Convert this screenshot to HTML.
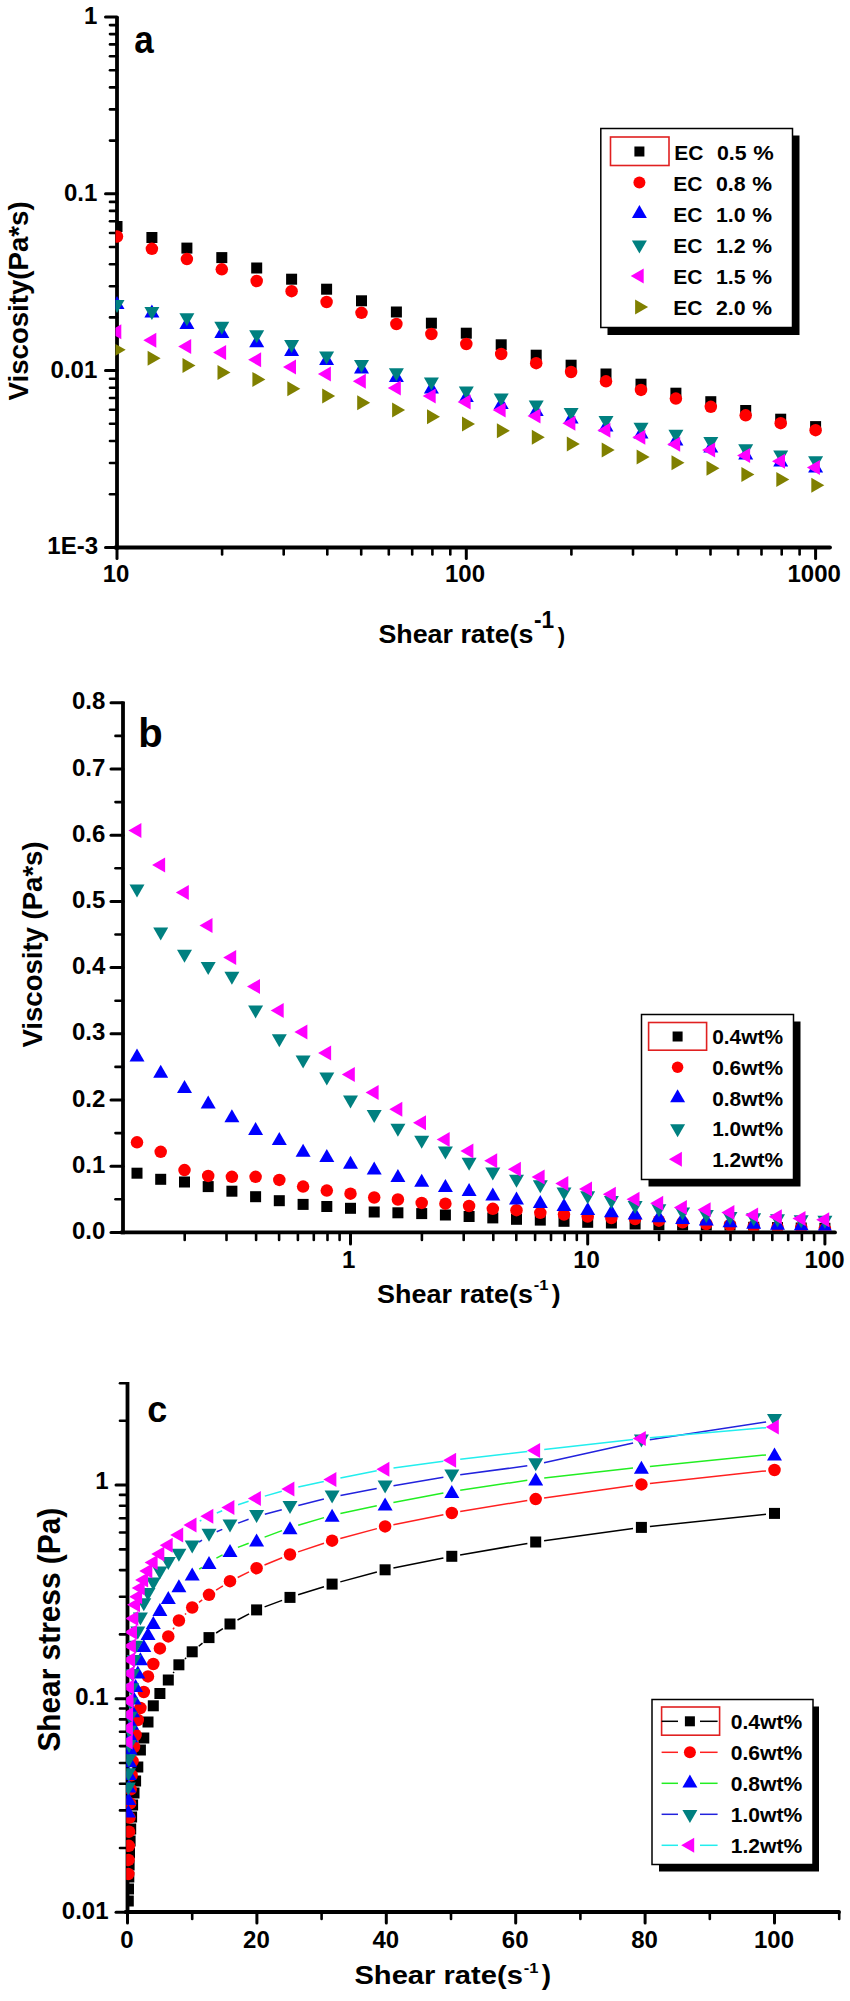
<!DOCTYPE html><html><head><meta charset="utf-8"><style>html,body{margin:0;padding:0;background:#fff;}svg{display:block;}text{font-family:"Liberation Sans",sans-serif;font-weight:bold;fill:#000;}</style></head><body>
<svg width="850" height="2001" viewBox="0 0 850 2001">
<rect width="850" height="2001" fill="#fff"/>
<defs><clipPath id="ca"><rect x="115.5" y="0" width="733" height="545.8"/></clipPath><clipPath id="cb"><rect x="121.5" y="690" width="727" height="540.5"/></clipPath><clipPath id="cc"><rect x="126.2" y="1370" width="722" height="540"/></clipPath></defs>
<line x1="117.0" y1="16.5" x2="117.0" y2="549.4" stroke="#000" stroke-width="3.8" stroke-linecap="butt"/>
<line x1="115.1" y1="547.5" x2="830.0" y2="547.5" stroke="#000" stroke-width="3.8" stroke-linecap="round"/>
<line x1="117.0" y1="17.0" x2="105.5" y2="17.0" stroke="#000" stroke-width="3" stroke-linecap="round"/>
<line x1="117.0" y1="140.6" x2="110.0" y2="140.6" stroke="#000" stroke-width="2.6" stroke-linecap="round"/>
<line x1="117.0" y1="109.4" x2="110.0" y2="109.4" stroke="#000" stroke-width="2.6" stroke-linecap="round"/>
<line x1="117.0" y1="87.4" x2="110.0" y2="87.4" stroke="#000" stroke-width="2.6" stroke-linecap="round"/>
<line x1="117.0" y1="70.2" x2="110.0" y2="70.2" stroke="#000" stroke-width="2.6" stroke-linecap="round"/>
<line x1="117.0" y1="56.2" x2="110.0" y2="56.2" stroke="#000" stroke-width="2.6" stroke-linecap="round"/>
<line x1="117.0" y1="44.4" x2="110.0" y2="44.4" stroke="#000" stroke-width="2.6" stroke-linecap="round"/>
<line x1="117.0" y1="34.1" x2="110.0" y2="34.1" stroke="#000" stroke-width="2.6" stroke-linecap="round"/>
<line x1="117.0" y1="25.1" x2="110.0" y2="25.1" stroke="#000" stroke-width="2.6" stroke-linecap="round"/>
<line x1="117.0" y1="193.8" x2="105.5" y2="193.8" stroke="#000" stroke-width="3" stroke-linecap="round"/>
<line x1="117.0" y1="317.4" x2="110.0" y2="317.4" stroke="#000" stroke-width="2.6" stroke-linecap="round"/>
<line x1="117.0" y1="286.2" x2="110.0" y2="286.2" stroke="#000" stroke-width="2.6" stroke-linecap="round"/>
<line x1="117.0" y1="264.2" x2="110.0" y2="264.2" stroke="#000" stroke-width="2.6" stroke-linecap="round"/>
<line x1="117.0" y1="247.0" x2="110.0" y2="247.0" stroke="#000" stroke-width="2.6" stroke-linecap="round"/>
<line x1="117.0" y1="233.0" x2="110.0" y2="233.0" stroke="#000" stroke-width="2.6" stroke-linecap="round"/>
<line x1="117.0" y1="221.2" x2="110.0" y2="221.2" stroke="#000" stroke-width="2.6" stroke-linecap="round"/>
<line x1="117.0" y1="210.9" x2="110.0" y2="210.9" stroke="#000" stroke-width="2.6" stroke-linecap="round"/>
<line x1="117.0" y1="201.9" x2="110.0" y2="201.9" stroke="#000" stroke-width="2.6" stroke-linecap="round"/>
<line x1="117.0" y1="370.6" x2="105.5" y2="370.6" stroke="#000" stroke-width="3" stroke-linecap="round"/>
<line x1="117.0" y1="494.2" x2="110.0" y2="494.2" stroke="#000" stroke-width="2.6" stroke-linecap="round"/>
<line x1="117.0" y1="463.0" x2="110.0" y2="463.0" stroke="#000" stroke-width="2.6" stroke-linecap="round"/>
<line x1="117.0" y1="441.0" x2="110.0" y2="441.0" stroke="#000" stroke-width="2.6" stroke-linecap="round"/>
<line x1="117.0" y1="423.8" x2="110.0" y2="423.8" stroke="#000" stroke-width="2.6" stroke-linecap="round"/>
<line x1="117.0" y1="409.8" x2="110.0" y2="409.8" stroke="#000" stroke-width="2.6" stroke-linecap="round"/>
<line x1="117.0" y1="398.0" x2="110.0" y2="398.0" stroke="#000" stroke-width="2.6" stroke-linecap="round"/>
<line x1="117.0" y1="387.7" x2="110.0" y2="387.7" stroke="#000" stroke-width="2.6" stroke-linecap="round"/>
<line x1="117.0" y1="378.7" x2="110.0" y2="378.7" stroke="#000" stroke-width="2.6" stroke-linecap="round"/>
<line x1="117.0" y1="547.4" x2="105.5" y2="547.4" stroke="#000" stroke-width="3" stroke-linecap="round"/>
<line x1="117.0" y1="547.5" x2="117.0" y2="558.5" stroke="#000" stroke-width="3" stroke-linecap="round"/>
<line x1="222.1" y1="547.5" x2="222.1" y2="554.5" stroke="#000" stroke-width="2.6" stroke-linecap="round"/>
<line x1="283.7" y1="547.5" x2="283.7" y2="554.5" stroke="#000" stroke-width="2.6" stroke-linecap="round"/>
<line x1="327.3" y1="547.5" x2="327.3" y2="554.5" stroke="#000" stroke-width="2.6" stroke-linecap="round"/>
<line x1="361.2" y1="547.5" x2="361.2" y2="554.5" stroke="#000" stroke-width="2.6" stroke-linecap="round"/>
<line x1="388.8" y1="547.5" x2="388.8" y2="554.5" stroke="#000" stroke-width="2.6" stroke-linecap="round"/>
<line x1="412.2" y1="547.5" x2="412.2" y2="554.5" stroke="#000" stroke-width="2.6" stroke-linecap="round"/>
<line x1="432.4" y1="547.5" x2="432.4" y2="554.5" stroke="#000" stroke-width="2.6" stroke-linecap="round"/>
<line x1="450.3" y1="547.5" x2="450.3" y2="554.5" stroke="#000" stroke-width="2.6" stroke-linecap="round"/>
<line x1="466.3" y1="547.5" x2="466.3" y2="558.5" stroke="#000" stroke-width="3" stroke-linecap="round"/>
<line x1="571.4" y1="547.5" x2="571.4" y2="554.5" stroke="#000" stroke-width="2.6" stroke-linecap="round"/>
<line x1="633.0" y1="547.5" x2="633.0" y2="554.5" stroke="#000" stroke-width="2.6" stroke-linecap="round"/>
<line x1="676.6" y1="547.5" x2="676.6" y2="554.5" stroke="#000" stroke-width="2.6" stroke-linecap="round"/>
<line x1="710.5" y1="547.5" x2="710.5" y2="554.5" stroke="#000" stroke-width="2.6" stroke-linecap="round"/>
<line x1="738.1" y1="547.5" x2="738.1" y2="554.5" stroke="#000" stroke-width="2.6" stroke-linecap="round"/>
<line x1="761.5" y1="547.5" x2="761.5" y2="554.5" stroke="#000" stroke-width="2.6" stroke-linecap="round"/>
<line x1="781.7" y1="547.5" x2="781.7" y2="554.5" stroke="#000" stroke-width="2.6" stroke-linecap="round"/>
<line x1="799.6" y1="547.5" x2="799.6" y2="554.5" stroke="#000" stroke-width="2.6" stroke-linecap="round"/>
<line x1="815.6" y1="547.5" x2="815.6" y2="558.5" stroke="#000" stroke-width="3" stroke-linecap="round"/>
<g clip-path="url(#ca)">
<rect x="111.5" y="221.0" width="11" height="11" fill="#000000"/>
<rect x="146.4" y="232.0" width="11" height="11" fill="#000000"/>
<rect x="181.4" y="242.6" width="11" height="11" fill="#000000"/>
<rect x="216.3" y="252.1" width="11" height="11" fill="#000000"/>
<rect x="251.2" y="262.5" width="11" height="11" fill="#000000"/>
<rect x="286.1" y="273.7" width="11" height="11" fill="#000000"/>
<rect x="321.1" y="283.7" width="11" height="11" fill="#000000"/>
<rect x="356.0" y="295.3" width="11" height="11" fill="#000000"/>
<rect x="390.9" y="306.5" width="11" height="11" fill="#000000"/>
<rect x="425.9" y="317.7" width="11" height="11" fill="#000000"/>
<rect x="460.8" y="327.7" width="11" height="11" fill="#000000"/>
<rect x="495.7" y="339.3" width="11" height="11" fill="#000000"/>
<rect x="530.7" y="349.7" width="11" height="11" fill="#000000"/>
<rect x="565.6" y="359.7" width="11" height="11" fill="#000000"/>
<rect x="600.5" y="368.5" width="11" height="11" fill="#000000"/>
<rect x="635.5" y="378.7" width="11" height="11" fill="#000000"/>
<rect x="670.4" y="387.7" width="11" height="11" fill="#000000"/>
<rect x="705.3" y="396.2" width="11" height="11" fill="#000000"/>
<rect x="740.2" y="405.0" width="11" height="11" fill="#000000"/>
<rect x="775.2" y="413.7" width="11" height="11" fill="#000000"/>
<rect x="810.1" y="421.1" width="11" height="11" fill="#000000"/>
<circle cx="117.0" cy="236.5" r="6.25" fill="#ff0000"/>
<circle cx="151.9" cy="248.8" r="6.25" fill="#ff0000"/>
<circle cx="186.9" cy="259.1" r="6.25" fill="#ff0000"/>
<circle cx="221.8" cy="269.3" r="6.25" fill="#ff0000"/>
<circle cx="256.7" cy="281.0" r="6.25" fill="#ff0000"/>
<circle cx="291.6" cy="291.2" r="6.25" fill="#ff0000"/>
<circle cx="326.6" cy="302.0" r="6.25" fill="#ff0000"/>
<circle cx="361.5" cy="312.8" r="6.25" fill="#ff0000"/>
<circle cx="396.4" cy="324.0" r="6.25" fill="#ff0000"/>
<circle cx="431.4" cy="334.0" r="6.25" fill="#ff0000"/>
<circle cx="466.3" cy="344.0" r="6.25" fill="#ff0000"/>
<circle cx="501.2" cy="354.0" r="6.25" fill="#ff0000"/>
<circle cx="536.2" cy="363.2" r="6.25" fill="#ff0000"/>
<circle cx="571.1" cy="372.0" r="6.25" fill="#ff0000"/>
<circle cx="606.0" cy="381.3" r="6.25" fill="#ff0000"/>
<circle cx="641.0" cy="389.9" r="6.25" fill="#ff0000"/>
<circle cx="675.9" cy="398.6" r="6.25" fill="#ff0000"/>
<circle cx="710.8" cy="406.8" r="6.25" fill="#ff0000"/>
<circle cx="745.7" cy="415.3" r="6.25" fill="#ff0000"/>
<circle cx="780.7" cy="423.2" r="6.25" fill="#ff0000"/>
<circle cx="815.6" cy="430.2" r="6.25" fill="#ff0000"/>
<polygon points="109.5,309.0 124.5,309.0 117.0,296.0" fill="#0000ff"/>
<polygon points="144.4,317.5 159.4,317.5 151.9,304.5" fill="#0000ff"/>
<polygon points="179.4,329.1 194.4,329.1 186.9,316.1" fill="#0000ff"/>
<polygon points="214.3,338.1 229.3,338.1 221.8,325.1" fill="#0000ff"/>
<polygon points="249.2,347.2 264.2,347.2 256.7,334.2" fill="#0000ff"/>
<polygon points="284.1,356.0 299.1,356.0 291.6,343.0" fill="#0000ff"/>
<polygon points="319.1,365.0 334.1,365.0 326.6,352.0" fill="#0000ff"/>
<polygon points="354.0,373.5 369.0,373.5 361.5,360.5" fill="#0000ff"/>
<polygon points="388.9,382.0 403.9,382.0 396.4,369.0" fill="#0000ff"/>
<polygon points="423.9,393.5 438.9,393.5 431.4,380.5" fill="#0000ff"/>
<polygon points="458.8,402.0 473.8,402.0 466.3,389.0" fill="#0000ff"/>
<polygon points="493.7,409.0 508.7,409.0 501.2,396.0" fill="#0000ff"/>
<polygon points="528.7,416.0 543.7,416.0 536.2,403.0" fill="#0000ff"/>
<polygon points="563.6,423.5 578.6,423.5 571.1,410.5" fill="#0000ff"/>
<polygon points="598.5,431.5 613.5,431.5 606.0,418.5" fill="#0000ff"/>
<polygon points="633.5,438.5 648.5,438.5 641.0,425.5" fill="#0000ff"/>
<polygon points="668.4,445.5 683.4,445.5 675.9,432.5" fill="#0000ff"/>
<polygon points="703.3,452.5 718.3,452.5 710.8,439.5" fill="#0000ff"/>
<polygon points="738.2,459.5 753.2,459.5 745.7,446.5" fill="#0000ff"/>
<polygon points="773.2,466.5 788.2,466.5 780.7,453.5" fill="#0000ff"/>
<polygon points="808.1,472.5 823.1,472.5 815.6,459.5" fill="#0000ff"/>
<polygon points="109.5,299.9 124.5,299.9 117.0,312.9" fill="#008080"/>
<polygon points="144.4,307.0 159.4,307.0 151.9,320.0" fill="#008080"/>
<polygon points="179.4,313.3 194.4,313.3 186.9,326.3" fill="#008080"/>
<polygon points="214.3,321.7 229.3,321.7 221.8,334.7" fill="#008080"/>
<polygon points="249.2,330.2 264.2,330.2 256.7,343.2" fill="#008080"/>
<polygon points="284.1,340.0 299.1,340.0 291.6,353.0" fill="#008080"/>
<polygon points="319.1,351.5 334.1,351.5 326.6,364.5" fill="#008080"/>
<polygon points="354.0,360.0 369.0,360.0 361.5,373.0" fill="#008080"/>
<polygon points="388.9,368.2 403.9,368.2 396.4,381.2" fill="#008080"/>
<polygon points="423.9,377.5 438.9,377.5 431.4,390.5" fill="#008080"/>
<polygon points="458.8,386.5 473.8,386.5 466.3,399.5" fill="#008080"/>
<polygon points="493.7,393.5 508.7,393.5 501.2,406.5" fill="#008080"/>
<polygon points="528.7,400.6 543.7,400.6 536.2,413.6" fill="#008080"/>
<polygon points="563.6,408.1 578.6,408.1 571.1,421.1" fill="#008080"/>
<polygon points="598.5,415.9 613.5,415.9 606.0,428.9" fill="#008080"/>
<polygon points="633.5,422.7 648.5,422.7 641.0,435.7" fill="#008080"/>
<polygon points="668.4,429.7 683.4,429.7 675.9,442.7" fill="#008080"/>
<polygon points="703.3,436.9 718.3,436.9 710.8,449.9" fill="#008080"/>
<polygon points="738.2,444.2 753.2,444.2 745.7,457.2" fill="#008080"/>
<polygon points="773.2,450.4 788.2,450.4 780.7,463.4" fill="#008080"/>
<polygon points="808.1,456.3 823.1,456.3 815.6,469.3" fill="#008080"/>
<polygon points="121.3,324.3 121.3,339.3 108.3,331.8" fill="#ff00ff"/>
<polygon points="156.3,332.7 156.3,347.7 143.3,340.2" fill="#ff00ff"/>
<polygon points="191.2,339.1 191.2,354.1 178.2,346.6" fill="#ff00ff"/>
<polygon points="226.1,345.0 226.1,360.0 213.1,352.5" fill="#ff00ff"/>
<polygon points="261.1,352.3 261.1,367.3 248.1,359.8" fill="#ff00ff"/>
<polygon points="296.0,359.5 296.0,374.5 283.0,367.0" fill="#ff00ff"/>
<polygon points="330.9,366.5 330.9,381.5 317.9,374.0" fill="#ff00ff"/>
<polygon points="365.8,373.7 365.8,388.7 352.8,381.2" fill="#ff00ff"/>
<polygon points="400.8,380.5 400.8,395.5 387.8,388.0" fill="#ff00ff"/>
<polygon points="435.7,388.5 435.7,403.5 422.7,396.0" fill="#ff00ff"/>
<polygon points="470.6,394.5 470.6,409.5 457.6,402.0" fill="#ff00ff"/>
<polygon points="505.6,402.5 505.6,417.5 492.6,410.0" fill="#ff00ff"/>
<polygon points="540.5,408.5 540.5,423.5 527.5,416.0" fill="#ff00ff"/>
<polygon points="575.4,415.7 575.4,430.7 562.4,423.2" fill="#ff00ff"/>
<polygon points="610.4,422.7 610.4,437.7 597.4,430.2" fill="#ff00ff"/>
<polygon points="645.3,429.8 645.3,444.8 632.3,437.3" fill="#ff00ff"/>
<polygon points="680.2,436.8 680.2,451.8 667.2,444.3" fill="#ff00ff"/>
<polygon points="715.1,442.5 715.1,457.5 702.1,450.0" fill="#ff00ff"/>
<polygon points="750.1,448.1 750.1,463.1 737.1,455.6" fill="#ff00ff"/>
<polygon points="785.0,453.8 785.0,468.8 772.0,461.3" fill="#ff00ff"/>
<polygon points="819.9,460.0 819.9,475.0 806.9,467.5" fill="#ff00ff"/>
<polygon points="112.7,342.3 112.7,357.3 125.7,349.8" fill="#808000"/>
<polygon points="147.6,350.7 147.6,365.7 160.6,358.2" fill="#808000"/>
<polygon points="182.5,358.0 182.5,373.0 195.5,365.5" fill="#808000"/>
<polygon points="217.5,365.1 217.5,380.1 230.5,372.6" fill="#808000"/>
<polygon points="252.4,371.9 252.4,386.9 265.4,379.4" fill="#808000"/>
<polygon points="287.3,381.3 287.3,396.3 300.3,388.8" fill="#808000"/>
<polygon points="322.2,388.5 322.2,403.5 335.2,396.0" fill="#808000"/>
<polygon points="357.2,395.3 357.2,410.3 370.2,402.8" fill="#808000"/>
<polygon points="392.1,402.5 392.1,417.5 405.1,410.0" fill="#808000"/>
<polygon points="427.0,409.3 427.0,424.3 440.0,416.8" fill="#808000"/>
<polygon points="462.0,416.5 462.0,431.5 475.0,424.0" fill="#808000"/>
<polygon points="496.9,423.3 496.9,438.3 509.9,430.8" fill="#808000"/>
<polygon points="531.8,429.7 531.8,444.7 544.8,437.2" fill="#808000"/>
<polygon points="566.8,436.5 566.8,451.5 579.8,444.0" fill="#808000"/>
<polygon points="601.7,442.5 601.7,457.5 614.7,450.0" fill="#808000"/>
<polygon points="636.6,449.5 636.6,464.5 649.6,457.0" fill="#808000"/>
<polygon points="671.5,455.2 671.5,470.2 684.5,462.7" fill="#808000"/>
<polygon points="706.5,460.8 706.5,475.8 719.5,468.3" fill="#808000"/>
<polygon points="741.4,467.0 741.4,482.0 754.4,474.5" fill="#808000"/>
<polygon points="776.3,472.1 776.3,487.1 789.3,479.6" fill="#808000"/>
<polygon points="811.3,477.8 811.3,492.8 824.3,485.3" fill="#808000"/>
</g>
<text x="97.3" y="23.5" font-size="24" text-anchor="end" >1</text>
<text x="97.3" y="201" font-size="24" text-anchor="end" >0.1</text>
<text x="97.3" y="377.7" font-size="24" text-anchor="end" >0.01</text>
<text x="98" y="553.6" font-size="24" text-anchor="end" >1E-3</text>
<text x="116" y="582" font-size="24" text-anchor="middle" >10</text>
<text x="465" y="582" font-size="24" text-anchor="middle" >100</text>
<text x="814.2" y="582" font-size="24" text-anchor="middle" >1000</text>
<text x="134.2" y="52.9" font-size="38" text-anchor="start"  textLength="19.5" lengthAdjust="spacingAndGlyphs">a</text>
<text x="378.4" y="642.6" font-size="26" text-anchor="start"  textLength="155.1" lengthAdjust="spacingAndGlyphs">Shear rate(s</text>
<text x="534" y="628" font-size="24" text-anchor="start"  textLength="20.2" lengthAdjust="spacingAndGlyphs">-1</text>
<text x="557.7" y="642.6" font-size="22" text-anchor="start" >)</text>
<text transform="translate(28.2,400.4) rotate(-90)" font-size="28" textLength="199" lengthAdjust="spacingAndGlyphs">Viscosity(Pa*s)</text>
<rect x="607.5" y="135.5" width="192" height="199.5" fill="#000"/>
<rect x="600.8" y="128.5" width="191.7" height="199" fill="#fff" stroke="#000" stroke-width="1.5"/>
<rect x="610.5" y="137" width="58.5" height="28.5" fill="none" stroke="#e02020" stroke-width="1.6"/>
<rect x="634.4" y="146.5" width="10" height="10" fill="#000000"/>
<text x="674.2" y="159.5" font-size="20.5" text-anchor="start"  textLength="29.2" lengthAdjust="spacingAndGlyphs">EC</text>
<text x="717" y="159.5" font-size="20.5" text-anchor="start"  textLength="29.6" lengthAdjust="spacingAndGlyphs">0.5</text>
<text x="753.3" y="159.5" font-size="20.5" text-anchor="start"  textLength="20.5" lengthAdjust="spacingAndGlyphs">%</text>
<circle cx="639.4" cy="182.6" r="6.0" fill="#ff0000"/>
<text x="673.2" y="190.6" font-size="20.5" text-anchor="start"  textLength="29.2" lengthAdjust="spacingAndGlyphs">EC</text>
<text x="716" y="190.6" font-size="20.5" text-anchor="start"  textLength="29.6" lengthAdjust="spacingAndGlyphs">0.8</text>
<text x="752.3" y="190.6" font-size="20.5" text-anchor="start"  textLength="19.8" lengthAdjust="spacingAndGlyphs">%</text>
<polygon points="631.9,218.0 646.9,218.0 639.4,205.0" fill="#0000ff"/>
<text x="673.2" y="221.7" font-size="20.5" text-anchor="start"  textLength="29.2" lengthAdjust="spacingAndGlyphs">EC</text>
<text x="716" y="221.7" font-size="20.5" text-anchor="start"  textLength="29.6" lengthAdjust="spacingAndGlyphs">1.0</text>
<text x="752.3" y="221.7" font-size="20.5" text-anchor="start"  textLength="19.8" lengthAdjust="spacingAndGlyphs">%</text>
<polygon points="631.9,240.5 646.9,240.5 639.4,253.5" fill="#008080"/>
<text x="673.2" y="252.8" font-size="20.5" text-anchor="start"  textLength="29.2" lengthAdjust="spacingAndGlyphs">EC</text>
<text x="716" y="252.8" font-size="20.5" text-anchor="start"  textLength="29.6" lengthAdjust="spacingAndGlyphs">1.2</text>
<text x="752.3" y="252.8" font-size="20.5" text-anchor="start"  textLength="19.8" lengthAdjust="spacingAndGlyphs">%</text>
<polygon points="643.7,268.4 643.7,283.4 630.7,275.9" fill="#ff00ff"/>
<text x="673.2" y="283.9" font-size="20.5" text-anchor="start"  textLength="29.2" lengthAdjust="spacingAndGlyphs">EC</text>
<text x="716" y="283.9" font-size="20.5" text-anchor="start"  textLength="29.6" lengthAdjust="spacingAndGlyphs">1.5</text>
<text x="752.3" y="283.9" font-size="20.5" text-anchor="start"  textLength="19.8" lengthAdjust="spacingAndGlyphs">%</text>
<polygon points="635.1,299.5 635.1,314.5 648.1,307.0" fill="#808000"/>
<text x="673.2" y="315.0" font-size="20.5" text-anchor="start"  textLength="29.2" lengthAdjust="spacingAndGlyphs">EC</text>
<text x="716" y="315.0" font-size="20.5" text-anchor="start"  textLength="29.6" lengthAdjust="spacingAndGlyphs">2.0</text>
<text x="752.3" y="315.0" font-size="20.5" text-anchor="start"  textLength="19.8" lengthAdjust="spacingAndGlyphs">%</text>
<line x1="123.0" y1="701.5" x2="123.0" y2="1234.3" stroke="#000" stroke-width="3.8" stroke-linecap="butt"/>
<line x1="121.1" y1="1232.4" x2="835.0" y2="1232.4" stroke="#000" stroke-width="3.8" stroke-linecap="round"/>
<line x1="123.0" y1="1232.4" x2="111.0" y2="1232.4" stroke="#000" stroke-width="3" stroke-linecap="round"/>
<line x1="123.0" y1="1199.3" x2="115.5" y2="1199.3" stroke="#000" stroke-width="2.6" stroke-linecap="round"/>
<line x1="123.0" y1="1166.2" x2="111.0" y2="1166.2" stroke="#000" stroke-width="3" stroke-linecap="round"/>
<line x1="123.0" y1="1133.1" x2="115.5" y2="1133.1" stroke="#000" stroke-width="2.6" stroke-linecap="round"/>
<line x1="123.0" y1="1100.0" x2="111.0" y2="1100.0" stroke="#000" stroke-width="3" stroke-linecap="round"/>
<line x1="123.0" y1="1066.9" x2="115.5" y2="1066.9" stroke="#000" stroke-width="2.6" stroke-linecap="round"/>
<line x1="123.0" y1="1033.8" x2="111.0" y2="1033.8" stroke="#000" stroke-width="3" stroke-linecap="round"/>
<line x1="123.0" y1="1000.7" x2="115.5" y2="1000.7" stroke="#000" stroke-width="2.6" stroke-linecap="round"/>
<line x1="123.0" y1="967.6" x2="111.0" y2="967.6" stroke="#000" stroke-width="3" stroke-linecap="round"/>
<line x1="123.0" y1="934.5" x2="115.5" y2="934.5" stroke="#000" stroke-width="2.6" stroke-linecap="round"/>
<line x1="123.0" y1="901.4" x2="111.0" y2="901.4" stroke="#000" stroke-width="3" stroke-linecap="round"/>
<line x1="123.0" y1="868.3" x2="115.5" y2="868.3" stroke="#000" stroke-width="2.6" stroke-linecap="round"/>
<line x1="123.0" y1="835.2" x2="111.0" y2="835.2" stroke="#000" stroke-width="3" stroke-linecap="round"/>
<line x1="123.0" y1="802.1" x2="115.5" y2="802.1" stroke="#000" stroke-width="2.6" stroke-linecap="round"/>
<line x1="123.0" y1="769.0" x2="111.0" y2="769.0" stroke="#000" stroke-width="3" stroke-linecap="round"/>
<line x1="123.0" y1="735.9" x2="115.5" y2="735.9" stroke="#000" stroke-width="2.6" stroke-linecap="round"/>
<line x1="123.0" y1="702.8" x2="111.0" y2="702.8" stroke="#000" stroke-width="3" stroke-linecap="round"/>
<line x1="350.5" y1="1232.4" x2="350.5" y2="1244.0" stroke="#000" stroke-width="3" stroke-linecap="round"/>
<line x1="587.7" y1="1232.4" x2="587.7" y2="1244.0" stroke="#000" stroke-width="3" stroke-linecap="round"/>
<line x1="824.9" y1="1232.4" x2="824.9" y2="1244.0" stroke="#000" stroke-width="3" stroke-linecap="round"/>
<line x1="184.7" y1="1232.4" x2="184.7" y2="1240.0" stroke="#000" stroke-width="2.6" stroke-linecap="round"/>
<line x1="226.5" y1="1232.4" x2="226.5" y2="1240.0" stroke="#000" stroke-width="2.6" stroke-linecap="round"/>
<line x1="256.1" y1="1232.4" x2="256.1" y2="1240.0" stroke="#000" stroke-width="2.6" stroke-linecap="round"/>
<line x1="279.1" y1="1232.4" x2="279.1" y2="1240.0" stroke="#000" stroke-width="2.6" stroke-linecap="round"/>
<line x1="297.9" y1="1232.4" x2="297.9" y2="1240.0" stroke="#000" stroke-width="2.6" stroke-linecap="round"/>
<line x1="313.8" y1="1232.4" x2="313.8" y2="1240.0" stroke="#000" stroke-width="2.6" stroke-linecap="round"/>
<line x1="327.5" y1="1232.4" x2="327.5" y2="1240.0" stroke="#000" stroke-width="2.6" stroke-linecap="round"/>
<line x1="339.6" y1="1232.4" x2="339.6" y2="1240.0" stroke="#000" stroke-width="2.6" stroke-linecap="round"/>
<line x1="421.9" y1="1232.4" x2="421.9" y2="1240.0" stroke="#000" stroke-width="2.6" stroke-linecap="round"/>
<line x1="463.7" y1="1232.4" x2="463.7" y2="1240.0" stroke="#000" stroke-width="2.6" stroke-linecap="round"/>
<line x1="493.3" y1="1232.4" x2="493.3" y2="1240.0" stroke="#000" stroke-width="2.6" stroke-linecap="round"/>
<line x1="516.3" y1="1232.4" x2="516.3" y2="1240.0" stroke="#000" stroke-width="2.6" stroke-linecap="round"/>
<line x1="535.1" y1="1232.4" x2="535.1" y2="1240.0" stroke="#000" stroke-width="2.6" stroke-linecap="round"/>
<line x1="551.0" y1="1232.4" x2="551.0" y2="1240.0" stroke="#000" stroke-width="2.6" stroke-linecap="round"/>
<line x1="564.7" y1="1232.4" x2="564.7" y2="1240.0" stroke="#000" stroke-width="2.6" stroke-linecap="round"/>
<line x1="576.8" y1="1232.4" x2="576.8" y2="1240.0" stroke="#000" stroke-width="2.6" stroke-linecap="round"/>
<line x1="659.1" y1="1232.4" x2="659.1" y2="1240.0" stroke="#000" stroke-width="2.6" stroke-linecap="round"/>
<line x1="700.9" y1="1232.4" x2="700.9" y2="1240.0" stroke="#000" stroke-width="2.6" stroke-linecap="round"/>
<line x1="730.5" y1="1232.4" x2="730.5" y2="1240.0" stroke="#000" stroke-width="2.6" stroke-linecap="round"/>
<line x1="753.5" y1="1232.4" x2="753.5" y2="1240.0" stroke="#000" stroke-width="2.6" stroke-linecap="round"/>
<line x1="772.3" y1="1232.4" x2="772.3" y2="1240.0" stroke="#000" stroke-width="2.6" stroke-linecap="round"/>
<line x1="788.2" y1="1232.4" x2="788.2" y2="1240.0" stroke="#000" stroke-width="2.6" stroke-linecap="round"/>
<line x1="801.9" y1="1232.4" x2="801.9" y2="1240.0" stroke="#000" stroke-width="2.6" stroke-linecap="round"/>
<line x1="814.0" y1="1232.4" x2="814.0" y2="1240.0" stroke="#000" stroke-width="2.6" stroke-linecap="round"/>
<g clip-path="url(#cb)">
<rect x="131.5" y="1167.7" width="11" height="11" fill="#000000"/>
<rect x="155.2" y="1173.8" width="11" height="11" fill="#000000"/>
<rect x="179.0" y="1176.5" width="11" height="11" fill="#000000"/>
<rect x="202.7" y="1181.1" width="11" height="11" fill="#000000"/>
<rect x="226.4" y="1185.7" width="11" height="11" fill="#000000"/>
<rect x="250.1" y="1191.2" width="11" height="11" fill="#000000"/>
<rect x="273.8" y="1195.2" width="11" height="11" fill="#000000"/>
<rect x="297.6" y="1198.9" width="11" height="11" fill="#000000"/>
<rect x="321.3" y="1201.0" width="11" height="11" fill="#000000"/>
<rect x="345.0" y="1202.8" width="11" height="11" fill="#000000"/>
<rect x="368.7" y="1206.5" width="11" height="11" fill="#000000"/>
<rect x="392.4" y="1207.3" width="11" height="11" fill="#000000"/>
<rect x="416.2" y="1208.1" width="11" height="11" fill="#000000"/>
<rect x="439.9" y="1209.5" width="11" height="11" fill="#000000"/>
<rect x="463.6" y="1211.0" width="11" height="11" fill="#000000"/>
<rect x="487.3" y="1212.4" width="11" height="11" fill="#000000"/>
<rect x="511.0" y="1213.8" width="11" height="11" fill="#000000"/>
<rect x="534.8" y="1214.6" width="11" height="11" fill="#000000"/>
<rect x="558.5" y="1215.8" width="11" height="11" fill="#000000"/>
<rect x="582.2" y="1216.8" width="11" height="11" fill="#000000"/>
<rect x="605.9" y="1217.5" width="11" height="11" fill="#000000"/>
<rect x="629.6" y="1218.5" width="11" height="11" fill="#000000"/>
<rect x="653.4" y="1219.5" width="11" height="11" fill="#000000"/>
<rect x="677.1" y="1220.1" width="11" height="11" fill="#000000"/>
<rect x="700.8" y="1220.8" width="11" height="11" fill="#000000"/>
<rect x="724.5" y="1221.5" width="11" height="11" fill="#000000"/>
<rect x="748.2" y="1221.8" width="11" height="11" fill="#000000"/>
<rect x="772.0" y="1222.1" width="11" height="11" fill="#000000"/>
<rect x="795.7" y="1222.5" width="11" height="11" fill="#000000"/>
<rect x="819.4" y="1222.8" width="11" height="11" fill="#000000"/>
<circle cx="137.0" cy="1142.3" r="6.25" fill="#ff0000"/>
<circle cx="160.7" cy="1151.8" r="6.25" fill="#ff0000"/>
<circle cx="184.5" cy="1170.1" r="6.25" fill="#ff0000"/>
<circle cx="208.2" cy="1175.9" r="6.25" fill="#ff0000"/>
<circle cx="231.9" cy="1176.8" r="6.25" fill="#ff0000"/>
<circle cx="255.6" cy="1176.8" r="6.25" fill="#ff0000"/>
<circle cx="279.3" cy="1179.9" r="6.25" fill="#ff0000"/>
<circle cx="303.1" cy="1186.6" r="6.25" fill="#ff0000"/>
<circle cx="326.8" cy="1190.6" r="6.25" fill="#ff0000"/>
<circle cx="350.5" cy="1193.7" r="6.25" fill="#ff0000"/>
<circle cx="374.2" cy="1197.5" r="6.25" fill="#ff0000"/>
<circle cx="397.9" cy="1199.5" r="6.25" fill="#ff0000"/>
<circle cx="421.7" cy="1202.9" r="6.25" fill="#ff0000"/>
<circle cx="445.4" cy="1203.7" r="6.25" fill="#ff0000"/>
<circle cx="469.1" cy="1206.0" r="6.25" fill="#ff0000"/>
<circle cx="492.8" cy="1208.8" r="6.25" fill="#ff0000"/>
<circle cx="516.5" cy="1210.2" r="6.25" fill="#ff0000"/>
<circle cx="540.3" cy="1212.8" r="6.25" fill="#ff0000"/>
<circle cx="564.0" cy="1214.5" r="6.25" fill="#ff0000"/>
<circle cx="587.7" cy="1216.5" r="6.25" fill="#ff0000"/>
<circle cx="611.4" cy="1218.0" r="6.25" fill="#ff0000"/>
<circle cx="635.1" cy="1219.0" r="6.25" fill="#ff0000"/>
<circle cx="658.9" cy="1220.7" r="6.25" fill="#ff0000"/>
<circle cx="682.6" cy="1222.3" r="6.25" fill="#ff0000"/>
<circle cx="706.3" cy="1224.0" r="6.25" fill="#ff0000"/>
<circle cx="730.0" cy="1225.0" r="6.25" fill="#ff0000"/>
<circle cx="753.7" cy="1226.3" r="6.25" fill="#ff0000"/>
<circle cx="777.5" cy="1227.3" r="6.25" fill="#ff0000"/>
<circle cx="801.2" cy="1228.0" r="6.25" fill="#ff0000"/>
<circle cx="824.9" cy="1228.9" r="6.25" fill="#ff0000"/>
<polygon points="129.5,1061.6 144.5,1061.6 137.0,1048.6" fill="#0000ff"/>
<polygon points="153.2,1077.8 168.2,1077.8 160.7,1064.8" fill="#0000ff"/>
<polygon points="177.0,1093.1 192.0,1093.1 184.5,1080.1" fill="#0000ff"/>
<polygon points="200.7,1108.4 215.7,1108.4 208.2,1095.4" fill="#0000ff"/>
<polygon points="224.4,1122.2 239.4,1122.2 231.9,1109.2" fill="#0000ff"/>
<polygon points="248.1,1135.0 263.1,1135.0 255.6,1122.0" fill="#0000ff"/>
<polygon points="271.8,1145.1 286.8,1145.1 279.3,1132.1" fill="#0000ff"/>
<polygon points="295.6,1156.7 310.6,1156.7 303.1,1143.7" fill="#0000ff"/>
<polygon points="319.3,1161.9 334.3,1161.9 326.8,1148.9" fill="#0000ff"/>
<polygon points="343.0,1168.7 358.0,1168.7 350.5,1155.7" fill="#0000ff"/>
<polygon points="366.7,1174.5 381.7,1174.5 374.2,1161.5" fill="#0000ff"/>
<polygon points="390.4,1182.0 405.4,1182.0 397.9,1169.0" fill="#0000ff"/>
<polygon points="414.2,1186.8 429.2,1186.8 421.7,1173.8" fill="#0000ff"/>
<polygon points="437.9,1191.9 452.9,1191.9 445.4,1178.9" fill="#0000ff"/>
<polygon points="461.6,1196.1 476.6,1196.1 469.1,1183.1" fill="#0000ff"/>
<polygon points="485.3,1200.4 500.3,1200.4 492.8,1187.4" fill="#0000ff"/>
<polygon points="509.0,1204.6 524.0,1204.6 516.5,1191.6" fill="#0000ff"/>
<polygon points="532.8,1208.0 547.8,1208.0 540.3,1195.0" fill="#0000ff"/>
<polygon points="556.5,1211.1 571.5,1211.1 564.0,1198.1" fill="#0000ff"/>
<polygon points="580.2,1215.1 595.2,1215.1 587.7,1202.1" fill="#0000ff"/>
<polygon points="603.9,1217.3 618.9,1217.3 611.4,1204.3" fill="#0000ff"/>
<polygon points="627.6,1219.6 642.6,1219.6 635.1,1206.6" fill="#0000ff"/>
<polygon points="651.4,1222.3 666.4,1222.3 658.9,1209.3" fill="#0000ff"/>
<polygon points="675.1,1223.9 690.1,1223.9 682.6,1210.9" fill="#0000ff"/>
<polygon points="698.8,1225.5 713.8,1225.5 706.3,1212.5" fill="#0000ff"/>
<polygon points="722.5,1227.2 737.5,1227.2 730.0,1214.2" fill="#0000ff"/>
<polygon points="746.2,1228.8 761.2,1228.8 753.7,1215.8" fill="#0000ff"/>
<polygon points="770.0,1229.8 785.0,1229.8 777.5,1216.8" fill="#0000ff"/>
<polygon points="793.7,1230.5 808.7,1230.5 801.2,1217.5" fill="#0000ff"/>
<polygon points="817.4,1231.5 832.4,1231.5 824.9,1218.5" fill="#0000ff"/>
<polygon points="129.5,884.6 144.5,884.6 137.0,897.6" fill="#008080"/>
<polygon points="153.2,927.4 168.2,927.4 160.7,940.4" fill="#008080"/>
<polygon points="177.0,949.7 192.0,949.7 184.5,962.7" fill="#008080"/>
<polygon points="200.7,962.0 215.7,962.0 208.2,975.0" fill="#008080"/>
<polygon points="224.4,971.7 239.4,971.7 231.9,984.7" fill="#008080"/>
<polygon points="248.1,1005.4 263.1,1005.4 255.6,1018.4" fill="#008080"/>
<polygon points="271.8,1034.3 286.8,1034.3 279.3,1047.3" fill="#008080"/>
<polygon points="295.6,1055.6 310.6,1055.6 303.1,1068.6" fill="#008080"/>
<polygon points="319.3,1072.4 334.3,1072.4 326.8,1085.4" fill="#008080"/>
<polygon points="343.0,1095.4 358.0,1095.4 350.5,1108.4" fill="#008080"/>
<polygon points="366.7,1110.0 381.7,1110.0 374.2,1123.0" fill="#008080"/>
<polygon points="390.4,1123.8 405.4,1123.8 397.9,1136.8" fill="#008080"/>
<polygon points="414.2,1135.7 429.2,1135.7 421.7,1148.7" fill="#008080"/>
<polygon points="437.9,1146.4 452.9,1146.4 445.4,1159.4" fill="#008080"/>
<polygon points="461.6,1157.7 476.6,1157.7 469.1,1170.7" fill="#008080"/>
<polygon points="485.3,1167.6 500.3,1167.6 492.8,1180.6" fill="#008080"/>
<polygon points="509.0,1174.7 524.0,1174.7 516.5,1187.7" fill="#008080"/>
<polygon points="532.8,1180.3 547.8,1180.3 540.3,1193.3" fill="#008080"/>
<polygon points="556.5,1187.4 571.5,1187.4 564.0,1200.4" fill="#008080"/>
<polygon points="580.2,1191.3 595.2,1191.3 587.7,1204.3" fill="#008080"/>
<polygon points="603.9,1196.1 618.9,1196.1 611.4,1209.1" fill="#008080"/>
<polygon points="627.6,1201.0 642.6,1201.0 635.1,1214.0" fill="#008080"/>
<polygon points="651.4,1204.3 666.4,1204.3 658.9,1217.3" fill="#008080"/>
<polygon points="675.1,1207.6 690.1,1207.6 682.6,1220.6" fill="#008080"/>
<polygon points="698.8,1209.9 713.8,1209.9 706.3,1222.9" fill="#008080"/>
<polygon points="722.5,1211.9 737.5,1211.9 730.0,1224.9" fill="#008080"/>
<polygon points="746.2,1213.2 761.2,1213.2 753.7,1226.2" fill="#008080"/>
<polygon points="770.0,1214.2 785.0,1214.2 777.5,1227.2" fill="#008080"/>
<polygon points="793.7,1215.2 808.7,1215.2 801.2,1228.2" fill="#008080"/>
<polygon points="817.4,1215.8 832.4,1215.8 824.9,1228.8" fill="#008080"/>
<polygon points="141.4,823.0 141.4,838.0 128.4,830.5" fill="#ff00ff"/>
<polygon points="165.1,857.6 165.1,872.6 152.1,865.1" fill="#ff00ff"/>
<polygon points="188.8,885.1 188.8,900.1 175.8,892.6" fill="#ff00ff"/>
<polygon points="212.5,918.1 212.5,933.1 199.5,925.6" fill="#ff00ff"/>
<polygon points="236.2,949.9 236.2,964.9 223.2,957.4" fill="#ff00ff"/>
<polygon points="260.0,979.0 260.0,994.0 247.0,986.5" fill="#ff00ff"/>
<polygon points="283.7,1002.9 283.7,1017.9 270.7,1010.4" fill="#ff00ff"/>
<polygon points="307.4,1024.5 307.4,1039.5 294.4,1032.0" fill="#ff00ff"/>
<polygon points="331.1,1045.5 331.1,1060.5 318.1,1053.0" fill="#ff00ff"/>
<polygon points="354.8,1066.9 354.8,1081.9 341.8,1074.4" fill="#ff00ff"/>
<polygon points="378.6,1085.0 378.6,1100.0 365.6,1092.5" fill="#ff00ff"/>
<polygon points="402.3,1101.7 402.3,1116.7 389.3,1109.2" fill="#ff00ff"/>
<polygon points="426.0,1115.2 426.0,1130.2 413.0,1122.7" fill="#ff00ff"/>
<polygon points="449.7,1131.9 449.7,1146.9 436.7,1139.4" fill="#ff00ff"/>
<polygon points="473.4,1143.5 473.4,1158.5 460.4,1151.0" fill="#ff00ff"/>
<polygon points="497.2,1153.3 497.2,1168.3 484.2,1160.8" fill="#ff00ff"/>
<polygon points="520.9,1161.8 520.9,1176.8 507.9,1169.3" fill="#ff00ff"/>
<polygon points="544.6,1169.4 544.6,1184.4 531.6,1176.9" fill="#ff00ff"/>
<polygon points="568.3,1175.9 568.3,1190.9 555.3,1183.4" fill="#ff00ff"/>
<polygon points="592.0,1181.6 592.0,1196.6 579.0,1189.1" fill="#ff00ff"/>
<polygon points="615.8,1186.8 615.8,1201.8 602.8,1194.3" fill="#ff00ff"/>
<polygon points="639.5,1191.8 639.5,1206.8 626.5,1199.3" fill="#ff00ff"/>
<polygon points="663.2,1195.7 663.2,1210.7 650.2,1203.2" fill="#ff00ff"/>
<polygon points="686.9,1200.0 686.9,1215.0 673.9,1207.5" fill="#ff00ff"/>
<polygon points="710.6,1202.3 710.6,1217.3 697.6,1209.8" fill="#ff00ff"/>
<polygon points="734.4,1205.0 734.4,1220.0 721.4,1212.5" fill="#ff00ff"/>
<polygon points="758.1,1207.6 758.1,1222.6 745.1,1215.1" fill="#ff00ff"/>
<polygon points="781.8,1209.2 781.8,1224.2 768.8,1216.7" fill="#ff00ff"/>
<polygon points="805.5,1210.9 805.5,1225.9 792.5,1218.4" fill="#ff00ff"/>
<polygon points="829.2,1212.2 829.2,1227.2 816.2,1219.7" fill="#ff00ff"/>
</g>
<text x="105.3" y="1238.9" font-size="24" text-anchor="end" >0.0</text>
<text x="105.3" y="1172.7" font-size="24" text-anchor="end" >0.1</text>
<text x="105.3" y="1106.5" font-size="24" text-anchor="end" >0.2</text>
<text x="105.3" y="1040.3000000000002" font-size="24" text-anchor="end" >0.3</text>
<text x="105.3" y="974.1000000000001" font-size="24" text-anchor="end" >0.4</text>
<text x="105.3" y="907.9000000000001" font-size="24" text-anchor="end" >0.5</text>
<text x="105.3" y="841.7" font-size="24" text-anchor="end" >0.6</text>
<text x="105.3" y="775.5000000000001" font-size="24" text-anchor="end" >0.7</text>
<text x="105.3" y="709.3000000000001" font-size="24" text-anchor="end" >0.8</text>
<text x="348.6" y="1267.5" font-size="24" text-anchor="middle" >1</text>
<text x="586.5" y="1267.5" font-size="24" text-anchor="middle" >10</text>
<text x="824.5" y="1267.5" font-size="24" text-anchor="middle" >100</text>
<text x="138.2" y="747.3" font-size="40" text-anchor="start" >b</text>
<text x="377.1" y="1303.4" font-size="26" text-anchor="start"  textLength="155.8" lengthAdjust="spacingAndGlyphs">Shear rate(s</text>
<text x="533.7" y="1289.8" font-size="15.5" text-anchor="start"  textLength="14.7" lengthAdjust="spacingAndGlyphs">-1</text>
<text x="551.7" y="1303.4" font-size="26.5" text-anchor="start" >)</text>
<text transform="translate(42.1,1047.5) rotate(-90)" font-size="28" textLength="206.1" lengthAdjust="spacingAndGlyphs">Viscosity (Pa*s)</text>
<rect x="648.5" y="1021.5" width="152" height="165" fill="#000"/>
<rect x="641.5" y="1014.5" width="152" height="165" fill="#fff" stroke="#000" stroke-width="1.5"/>
<rect x="648.6" y="1022.5" width="58" height="27.7" fill="none" stroke="#e02020" stroke-width="1.6"/>
<rect x="672.6" y="1031.5" width="10" height="10" fill="#000000"/>
<text x="712.2" y="1044.3" font-size="20.5" text-anchor="start"  textLength="70.8" lengthAdjust="spacingAndGlyphs">0.4wt%</text>
<circle cx="677.6" cy="1067.2" r="5.75" fill="#ff0000"/>
<text x="712.2" y="1075.0" font-size="20.5" text-anchor="start"  textLength="70.8" lengthAdjust="spacingAndGlyphs">0.6wt%</text>
<polygon points="670.1,1102.2 685.1,1102.2 677.6,1089.2" fill="#0000ff"/>
<text x="712.2" y="1105.7" font-size="20.5" text-anchor="start"  textLength="70.8" lengthAdjust="spacingAndGlyphs">0.8wt%</text>
<polygon points="670.1,1124.3 685.1,1124.3 677.6,1137.3" fill="#008080"/>
<text x="712.2" y="1136.3999999999999" font-size="20.5" text-anchor="start"  textLength="70.8" lengthAdjust="spacingAndGlyphs">1.0wt%</text>
<polygon points="681.9,1151.8 681.9,1166.8 668.9,1159.3" fill="#ff00ff"/>
<text x="712.2" y="1167.1" font-size="20.5" text-anchor="start"  textLength="70.8" lengthAdjust="spacingAndGlyphs">1.2wt%</text>
<line x1="127.5" y1="1382.0" x2="127.5" y2="1913.9" stroke="#000" stroke-width="3.8" stroke-linecap="butt"/>
<line x1="125.6" y1="1912.0" x2="839.0" y2="1912.0" stroke="#000" stroke-width="3.8" stroke-linecap="round"/>
<line x1="127.5" y1="1485.1" x2="116.0" y2="1485.1" stroke="#000" stroke-width="3" stroke-linecap="round"/>
<line x1="127.5" y1="1698.7" x2="116.0" y2="1698.7" stroke="#000" stroke-width="3" stroke-linecap="round"/>
<line x1="127.5" y1="1912.3" x2="116.0" y2="1912.3" stroke="#000" stroke-width="3" stroke-linecap="round"/>
<line x1="127.5" y1="1848.0" x2="120.0" y2="1848.0" stroke="#000" stroke-width="2.6" stroke-linecap="round"/>
<line x1="127.5" y1="1810.4" x2="120.0" y2="1810.4" stroke="#000" stroke-width="2.6" stroke-linecap="round"/>
<line x1="127.5" y1="1783.7" x2="120.0" y2="1783.7" stroke="#000" stroke-width="2.6" stroke-linecap="round"/>
<line x1="127.5" y1="1763.0" x2="120.0" y2="1763.0" stroke="#000" stroke-width="2.6" stroke-linecap="round"/>
<line x1="127.5" y1="1746.1" x2="120.0" y2="1746.1" stroke="#000" stroke-width="2.6" stroke-linecap="round"/>
<line x1="127.5" y1="1731.8" x2="120.0" y2="1731.8" stroke="#000" stroke-width="2.6" stroke-linecap="round"/>
<line x1="127.5" y1="1719.4" x2="120.0" y2="1719.4" stroke="#000" stroke-width="2.6" stroke-linecap="round"/>
<line x1="127.5" y1="1708.5" x2="120.0" y2="1708.5" stroke="#000" stroke-width="2.6" stroke-linecap="round"/>
<line x1="127.5" y1="1634.4" x2="120.0" y2="1634.4" stroke="#000" stroke-width="2.6" stroke-linecap="round"/>
<line x1="127.5" y1="1596.8" x2="120.0" y2="1596.8" stroke="#000" stroke-width="2.6" stroke-linecap="round"/>
<line x1="127.5" y1="1570.1" x2="120.0" y2="1570.1" stroke="#000" stroke-width="2.6" stroke-linecap="round"/>
<line x1="127.5" y1="1549.4" x2="120.0" y2="1549.4" stroke="#000" stroke-width="2.6" stroke-linecap="round"/>
<line x1="127.5" y1="1532.5" x2="120.0" y2="1532.5" stroke="#000" stroke-width="2.6" stroke-linecap="round"/>
<line x1="127.5" y1="1518.2" x2="120.0" y2="1518.2" stroke="#000" stroke-width="2.6" stroke-linecap="round"/>
<line x1="127.5" y1="1505.8" x2="120.0" y2="1505.8" stroke="#000" stroke-width="2.6" stroke-linecap="round"/>
<line x1="127.5" y1="1494.9" x2="120.0" y2="1494.9" stroke="#000" stroke-width="2.6" stroke-linecap="round"/>
<line x1="127.5" y1="1420.8" x2="120.0" y2="1420.8" stroke="#000" stroke-width="2.6" stroke-linecap="round"/>
<line x1="127.5" y1="1383.2" x2="120.0" y2="1383.2" stroke="#000" stroke-width="2.6" stroke-linecap="round"/>
<line x1="127.5" y1="1912.0" x2="127.5" y2="1923.0" stroke="#000" stroke-width="3" stroke-linecap="round"/>
<line x1="256.9" y1="1912.0" x2="256.9" y2="1923.0" stroke="#000" stroke-width="3" stroke-linecap="round"/>
<line x1="386.3" y1="1912.0" x2="386.3" y2="1923.0" stroke="#000" stroke-width="3" stroke-linecap="round"/>
<line x1="515.7" y1="1912.0" x2="515.7" y2="1923.0" stroke="#000" stroke-width="3" stroke-linecap="round"/>
<line x1="645.1" y1="1912.0" x2="645.1" y2="1923.0" stroke="#000" stroke-width="3" stroke-linecap="round"/>
<line x1="774.5" y1="1912.0" x2="774.5" y2="1923.0" stroke="#000" stroke-width="3" stroke-linecap="round"/>
<line x1="192.2" y1="1912.0" x2="192.2" y2="1919.0" stroke="#000" stroke-width="2.6" stroke-linecap="round"/>
<line x1="321.6" y1="1912.0" x2="321.6" y2="1919.0" stroke="#000" stroke-width="2.6" stroke-linecap="round"/>
<line x1="451.0" y1="1912.0" x2="451.0" y2="1919.0" stroke="#000" stroke-width="2.6" stroke-linecap="round"/>
<line x1="580.4" y1="1912.0" x2="580.4" y2="1919.0" stroke="#000" stroke-width="2.6" stroke-linecap="round"/>
<line x1="709.8" y1="1912.0" x2="709.8" y2="1919.0" stroke="#000" stroke-width="2.6" stroke-linecap="round"/>
<line x1="839.2" y1="1912.0" x2="839.2" y2="1919.0" stroke="#000" stroke-width="2.6" stroke-linecap="round"/>
<g clip-path="url(#cc)">
<path d="M173.2,1673.0L174.0,1671.8M185.0,1658.9L186.1,1657.7M198.7,1646.3L202.5,1643.1M216.1,1633.0L222.9,1628.6M237.5,1620.0L249.1,1613.9M264.6,1606.9L282.1,1600.4M298.1,1594.8L324.0,1586.7M340.3,1581.9L376.9,1572.0M393.4,1568.1L443.4,1558.0M460.1,1554.9L527.4,1543.4M544.1,1540.8L633.0,1528.6M649.9,1526.5L766.0,1514.3" stroke="#000000" stroke-width="1.5" fill="none"/>
<rect x="122.8" y="1895.5" width="11" height="11" fill="#000000"/>
<rect x="123.0" y="1883.5" width="11" height="11" fill="#000000"/>
<rect x="123.3" y="1871.5" width="11" height="11" fill="#000000"/>
<rect x="123.6" y="1859.5" width="11" height="11" fill="#000000"/>
<rect x="124.0" y="1847.5" width="11" height="11" fill="#000000"/>
<rect x="124.6" y="1835.5" width="11" height="11" fill="#000000"/>
<rect x="125.2" y="1823.5" width="11" height="11" fill="#000000"/>
<rect x="126.1" y="1811.5" width="11" height="11" fill="#000000"/>
<rect x="127.1" y="1799.5" width="11" height="11" fill="#000000"/>
<rect x="128.5" y="1787.5" width="11" height="11" fill="#000000"/>
<rect x="130.1" y="1775.5" width="11" height="11" fill="#000000"/>
<rect x="132.3" y="1761.5" width="11" height="11" fill="#000000"/>
<rect x="134.9" y="1744.5" width="11" height="11" fill="#000000"/>
<rect x="138.3" y="1732.5" width="11" height="11" fill="#000000"/>
<rect x="142.5" y="1716.5" width="11" height="11" fill="#000000"/>
<rect x="147.8" y="1700.3" width="11" height="11" fill="#000000"/>
<rect x="154.4" y="1688.0" width="11" height="11" fill="#000000"/>
<rect x="162.8" y="1674.5" width="11" height="11" fill="#000000"/>
<rect x="173.4" y="1659.3" width="11" height="11" fill="#000000"/>
<rect x="186.7" y="1646.3" width="11" height="11" fill="#000000"/>
<rect x="203.5" y="1632.1" width="11" height="11" fill="#000000"/>
<rect x="224.5" y="1618.5" width="11" height="11" fill="#000000"/>
<rect x="251.1" y="1604.4" width="11" height="11" fill="#000000"/>
<rect x="284.5" y="1591.9" width="11" height="11" fill="#000000"/>
<rect x="326.6" y="1578.6" width="11" height="11" fill="#000000"/>
<rect x="379.6" y="1564.3" width="11" height="11" fill="#000000"/>
<rect x="446.3" y="1550.8" width="11" height="11" fill="#000000"/>
<rect x="530.2" y="1536.5" width="11" height="11" fill="#000000"/>
<rect x="635.9" y="1521.9" width="11" height="11" fill="#000000"/>
<rect x="769.0" y="1507.9" width="11" height="11" fill="#000000"/>
<path d="M173.0,1629.3L174.2,1627.6M185.0,1614.6L186.1,1613.4M199.0,1602.4L202.2,1599.9M216.1,1590.2L222.9,1585.8M237.7,1577.5L249.0,1571.9M264.5,1565.0L282.2,1557.7M298.1,1551.9L324.0,1543.3M340.3,1538.5L376.9,1528.6M393.4,1524.7L443.4,1514.7M460.2,1511.6L527.3,1500.5M544.1,1497.9L633.0,1485.6M649.9,1483.5L766.0,1470.9" stroke="#ff2020" stroke-width="1.5" fill="none"/>
<circle cx="128.3" cy="1874.0" r="6.25" fill="#ff0000"/>
<circle cx="128.5" cy="1859.9" r="6.25" fill="#ff0000"/>
<circle cx="128.8" cy="1845.8" r="6.25" fill="#ff0000"/>
<circle cx="129.1" cy="1831.7" r="6.25" fill="#ff0000"/>
<circle cx="129.5" cy="1817.6" r="6.25" fill="#ff0000"/>
<circle cx="130.1" cy="1803.4" r="6.25" fill="#ff0000"/>
<circle cx="130.7" cy="1789.3" r="6.25" fill="#ff0000"/>
<circle cx="131.6" cy="1775.2" r="6.25" fill="#ff0000"/>
<circle cx="132.6" cy="1761.1" r="6.25" fill="#ff0000"/>
<circle cx="134.0" cy="1747.0" r="6.25" fill="#ff0000"/>
<circle cx="135.6" cy="1735.0" r="6.25" fill="#ff0000"/>
<circle cx="137.8" cy="1720.0" r="6.25" fill="#ff0000"/>
<circle cx="140.4" cy="1708.0" r="6.25" fill="#ff0000"/>
<circle cx="143.8" cy="1692.0" r="6.25" fill="#ff0000"/>
<circle cx="148.0" cy="1676.4" r="6.25" fill="#ff0000"/>
<circle cx="153.3" cy="1664.0" r="6.25" fill="#ff0000"/>
<circle cx="159.9" cy="1648.4" r="6.25" fill="#ff0000"/>
<circle cx="168.3" cy="1636.4" r="6.25" fill="#ff0000"/>
<circle cx="178.9" cy="1620.5" r="6.25" fill="#ff0000"/>
<circle cx="192.2" cy="1607.5" r="6.25" fill="#ff0000"/>
<circle cx="209.0" cy="1594.8" r="6.25" fill="#ff0000"/>
<circle cx="230.0" cy="1581.2" r="6.25" fill="#ff0000"/>
<circle cx="256.6" cy="1568.2" r="6.25" fill="#ff0000"/>
<circle cx="290.0" cy="1554.5" r="6.25" fill="#ff0000"/>
<circle cx="332.1" cy="1540.7" r="6.25" fill="#ff0000"/>
<circle cx="385.1" cy="1526.4" r="6.25" fill="#ff0000"/>
<circle cx="451.8" cy="1513.0" r="6.25" fill="#ff0000"/>
<circle cx="535.7" cy="1499.1" r="6.25" fill="#ff0000"/>
<circle cx="641.4" cy="1484.4" r="6.25" fill="#ff0000"/>
<circle cx="774.5" cy="1470.0" r="6.25" fill="#ff0000"/>
<path d="M199.2,1569.2L202.0,1567.3M216.4,1558.2L222.6,1554.8M237.9,1547.4L248.7,1543.2M264.6,1537.1L282.0,1530.6M298.2,1525.3L324.0,1517.6M340.4,1513.4L376.8,1505.8M393.4,1502.4L443.4,1493.1M460.2,1490.2L527.3,1480.3M544.2,1478.1L633.0,1468.1M649.9,1466.4L766.0,1454.9" stroke="#22ee22" stroke-width="1.5" fill="none"/>
<polygon points="120.8,1817.5 135.8,1817.5 128.3,1804.5" fill="#0000ff"/>
<polygon points="121.0,1805.0 136.0,1805.0 128.5,1792.0" fill="#0000ff"/>
<polygon points="121.3,1792.4 136.3,1792.4 128.8,1779.4" fill="#0000ff"/>
<polygon points="121.6,1779.9 136.6,1779.9 129.1,1766.9" fill="#0000ff"/>
<polygon points="122.0,1767.3 137.0,1767.3 129.5,1754.3" fill="#0000ff"/>
<polygon points="122.6,1754.8 137.6,1754.8 130.1,1741.8" fill="#0000ff"/>
<polygon points="123.2,1742.3 138.2,1742.3 130.7,1729.3" fill="#0000ff"/>
<polygon points="124.1,1729.7 139.1,1729.7 131.6,1716.7" fill="#0000ff"/>
<polygon points="125.1,1717.2 140.1,1717.2 132.6,1704.2" fill="#0000ff"/>
<polygon points="126.5,1704.6 141.5,1704.6 134.0,1691.6" fill="#0000ff"/>
<polygon points="128.1,1692.1 143.1,1692.1 135.6,1679.1" fill="#0000ff"/>
<polygon points="130.3,1678.5 145.3,1678.5 137.8,1665.5" fill="#0000ff"/>
<polygon points="132.9,1665.3 147.9,1665.3 140.4,1652.3" fill="#0000ff"/>
<polygon points="136.3,1652.1 151.3,1652.1 143.8,1639.1" fill="#0000ff"/>
<polygon points="140.5,1640.1 155.5,1640.1 148.0,1627.1" fill="#0000ff"/>
<polygon points="145.8,1628.9 160.8,1628.9 153.3,1615.9" fill="#0000ff"/>
<polygon points="152.4,1616.1 167.4,1616.1 159.9,1603.1" fill="#0000ff"/>
<polygon points="160.8,1604.1 175.8,1604.1 168.3,1591.1" fill="#0000ff"/>
<polygon points="171.4,1592.3 186.4,1592.3 178.9,1579.3" fill="#0000ff"/>
<polygon points="184.7,1580.6 199.7,1580.6 192.2,1567.6" fill="#0000ff"/>
<polygon points="201.5,1568.9 216.5,1568.9 209.0,1555.9" fill="#0000ff"/>
<polygon points="222.5,1557.1 237.5,1557.1 230.0,1544.1" fill="#0000ff"/>
<polygon points="249.1,1546.5 264.1,1546.5 256.6,1533.5" fill="#0000ff"/>
<polygon points="282.5,1534.2 297.5,1534.2 290.0,1521.2" fill="#0000ff"/>
<polygon points="324.6,1521.7 339.6,1521.7 332.1,1508.7" fill="#0000ff"/>
<polygon points="377.6,1510.5 392.6,1510.5 385.1,1497.5" fill="#0000ff"/>
<polygon points="444.3,1498.0 459.3,1498.0 451.8,1485.0" fill="#0000ff"/>
<polygon points="528.2,1485.5 543.2,1485.5 535.7,1472.5" fill="#0000ff"/>
<polygon points="633.9,1473.7 648.9,1473.7 641.4,1460.7" fill="#0000ff"/>
<polygon points="767.0,1460.6 782.0,1460.6 774.5,1447.6" fill="#0000ff"/>
<path d="M199.1,1542.2L202.0,1540.2M216.7,1531.8L222.3,1529.4M238.1,1523.1L248.6,1519.3M264.8,1514.3L281.8,1509.7M298.3,1505.4L323.9,1499.0M340.5,1495.4L376.7,1488.6M393.5,1485.7L443.4,1477.3M460.2,1474.8L527.3,1465.8M544.0,1462.8L633.1,1442.9M649.8,1439.7L766.1,1421.9" stroke="#2222dd" stroke-width="1.5" fill="none"/>
<polygon points="120.8,1782.5 135.8,1782.5 128.3,1795.5" fill="#008080"/>
<polygon points="121.0,1768.3 136.0,1768.3 128.5,1781.3" fill="#008080"/>
<polygon points="121.3,1754.2 136.3,1754.2 128.8,1767.2" fill="#008080"/>
<polygon points="121.6,1740.0 136.6,1740.0 129.1,1753.0" fill="#008080"/>
<polygon points="122.0,1725.8 137.0,1725.8 129.5,1738.8" fill="#008080"/>
<polygon points="122.6,1711.7 137.6,1711.7 130.1,1724.7" fill="#008080"/>
<polygon points="123.2,1697.5 138.2,1697.5 130.7,1710.5" fill="#008080"/>
<polygon points="124.1,1683.3 139.1,1683.3 131.6,1696.3" fill="#008080"/>
<polygon points="125.1,1669.1 140.1,1669.1 132.6,1682.1" fill="#008080"/>
<polygon points="126.5,1655.0 141.5,1655.0 134.0,1668.0" fill="#008080"/>
<polygon points="128.1,1640.8 143.1,1640.8 135.6,1653.8" fill="#008080"/>
<polygon points="130.3,1626.6 145.3,1626.6 137.8,1639.6" fill="#008080"/>
<polygon points="132.9,1612.5 147.9,1612.5 140.4,1625.5" fill="#008080"/>
<polygon points="136.3,1598.3 151.3,1598.3 143.8,1611.3" fill="#008080"/>
<polygon points="140.5,1587.9 155.5,1587.9 148.0,1600.9" fill="#008080"/>
<polygon points="145.8,1577.5 160.8,1577.5 153.3,1590.5" fill="#008080"/>
<polygon points="152.4,1566.5 167.4,1566.5 159.9,1579.5" fill="#008080"/>
<polygon points="160.8,1557.0 175.8,1557.0 168.3,1570.0" fill="#008080"/>
<polygon points="171.4,1548.8 186.4,1548.8 178.9,1561.8" fill="#008080"/>
<polygon points="184.7,1540.6 199.7,1540.6 192.2,1553.6" fill="#008080"/>
<polygon points="201.5,1528.8 216.5,1528.8 209.0,1541.8" fill="#008080"/>
<polygon points="222.5,1519.4 237.5,1519.4 230.0,1532.4" fill="#008080"/>
<polygon points="249.1,1510.0 264.1,1510.0 256.6,1523.0" fill="#008080"/>
<polygon points="282.5,1501.0 297.5,1501.0 290.0,1514.0" fill="#008080"/>
<polygon points="324.6,1490.4 339.6,1490.4 332.1,1503.4" fill="#008080"/>
<polygon points="377.6,1480.6 392.6,1480.6 385.1,1493.6" fill="#008080"/>
<polygon points="444.3,1469.4 459.3,1469.4 451.8,1482.4" fill="#008080"/>
<polygon points="528.2,1458.2 543.2,1458.2 535.7,1471.2" fill="#008080"/>
<polygon points="633.9,1434.5 648.9,1434.5 641.4,1447.5" fill="#008080"/>
<polygon points="767.0,1414.1 782.0,1414.1 774.5,1427.1" fill="#008080"/>
<path d="M199.7,1521.0L201.4,1520.2M216.8,1513.0L222.2,1510.7M238.1,1504.7L248.6,1501.2M264.8,1496.1L281.8,1491.3M298.3,1487.1L323.8,1481.4M340.4,1477.9L376.7,1470.8M393.5,1468.1L443.3,1461.3M460.2,1459.2L527.3,1451.4M544.2,1449.4L633.0,1439.4M649.9,1437.7L766.0,1427.7" stroke="#22eeee" stroke-width="1.5" fill="none"/>
<polygon points="132.6,1734.5 132.6,1749.5 119.6,1742.0" fill="#ff00ff"/>
<polygon points="132.9,1720.8 132.9,1735.8 119.9,1728.3" fill="#ff00ff"/>
<polygon points="133.1,1707.1 133.1,1722.1 120.1,1714.6" fill="#ff00ff"/>
<polygon points="133.5,1693.3 133.5,1708.3 120.5,1700.8" fill="#ff00ff"/>
<polygon points="133.9,1679.6 133.9,1694.6 120.9,1687.1" fill="#ff00ff"/>
<polygon points="134.4,1665.9 134.4,1680.9 121.4,1673.4" fill="#ff00ff"/>
<polygon points="135.1,1652.2 135.1,1667.2 122.1,1659.7" fill="#ff00ff"/>
<polygon points="135.9,1638.5 135.9,1653.5 122.9,1646.0" fill="#ff00ff"/>
<polygon points="137.0,1624.7 137.0,1639.7 124.0,1632.2" fill="#ff00ff"/>
<polygon points="138.3,1611.0 138.3,1626.0 125.3,1618.5" fill="#ff00ff"/>
<polygon points="140.0,1597.3 140.0,1612.3 127.0,1604.8" fill="#ff00ff"/>
<polygon points="142.1,1589.3 142.1,1604.3 129.1,1596.8" fill="#ff00ff"/>
<polygon points="144.7,1580.5 144.7,1595.5 131.7,1588.0" fill="#ff00ff"/>
<polygon points="148.1,1572.5 148.1,1587.5 135.1,1580.0" fill="#ff00ff"/>
<polygon points="152.3,1563.5 152.3,1578.5 139.3,1571.0" fill="#ff00ff"/>
<polygon points="157.6,1554.9 157.6,1569.9 144.6,1562.4" fill="#ff00ff"/>
<polygon points="164.3,1546.6 164.3,1561.6 151.3,1554.1" fill="#ff00ff"/>
<polygon points="172.7,1537.8 172.7,1552.8 159.7,1545.3" fill="#ff00ff"/>
<polygon points="183.2,1527.5 183.2,1542.5 170.2,1535.0" fill="#ff00ff"/>
<polygon points="196.5,1517.5 196.5,1532.5 183.5,1525.0" fill="#ff00ff"/>
<polygon points="213.3,1508.7 213.3,1523.7 200.3,1516.2" fill="#ff00ff"/>
<polygon points="234.4,1500.0 234.4,1515.0 221.4,1507.5" fill="#ff00ff"/>
<polygon points="260.9,1490.9 260.9,1505.9 247.9,1498.4" fill="#ff00ff"/>
<polygon points="294.4,1481.5 294.4,1496.5 281.4,1489.0" fill="#ff00ff"/>
<polygon points="336.4,1472.0 336.4,1487.0 323.4,1479.5" fill="#ff00ff"/>
<polygon points="389.4,1461.7 389.4,1476.7 376.4,1469.2" fill="#ff00ff"/>
<polygon points="456.1,1452.7 456.1,1467.7 443.1,1460.2" fill="#ff00ff"/>
<polygon points="540.1,1442.9 540.1,1457.9 527.1,1450.4" fill="#ff00ff"/>
<polygon points="645.8,1430.9 645.8,1445.9 632.8,1438.4" fill="#ff00ff"/>
<polygon points="778.8,1419.5 778.8,1434.5 765.8,1427.0" fill="#ff00ff"/>
</g>
<text x="108.5" y="1489" font-size="24" text-anchor="end" >1</text>
<text x="108.5" y="1704.7" font-size="24" text-anchor="end" >0.1</text>
<text x="108.5" y="1919" font-size="24" text-anchor="end" >0.01</text>
<text x="127.0" y="1947.7" font-size="24" text-anchor="middle" >0</text>
<text x="256.4" y="1947.7" font-size="24" text-anchor="middle" >20</text>
<text x="385.8" y="1947.7" font-size="24" text-anchor="middle" >40</text>
<text x="515.2" y="1947.7" font-size="24" text-anchor="middle" >60</text>
<text x="644.6" y="1947.7" font-size="24" text-anchor="middle" >80</text>
<text x="774.0" y="1947.7" font-size="24" text-anchor="middle" >100</text>
<text x="147.2" y="1422.2" font-size="36" text-anchor="start" >c</text>
<text x="354.4" y="1983.8" font-size="26.5" text-anchor="start"  textLength="168.5" lengthAdjust="spacingAndGlyphs">Shear rate(s</text>
<text x="523.7" y="1973.3" font-size="14" text-anchor="start"  textLength="14.7" lengthAdjust="spacingAndGlyphs">-1</text>
<text x="541.7" y="1984" font-size="28" text-anchor="start" >)</text>
<text transform="translate(59.6,1751.6) rotate(-90)" font-size="30.5" textLength="243.8" lengthAdjust="spacingAndGlyphs">Shear stress (Pa)</text>
<rect x="659" y="1706.5" width="160" height="165" fill="#000"/>
<rect x="652" y="1699.5" width="161" height="165" fill="#fff" stroke="#000" stroke-width="1.5"/>
<rect x="661.6" y="1707" width="58" height="28.2" fill="none" stroke="#e02020" stroke-width="1.6"/>
<line x1="661.6" y1="1721.3" x2="678.0" y2="1721.3" stroke="#000" stroke-width="1.5" stroke-linecap="butt"/>
<line x1="700.0" y1="1721.3" x2="717.6" y2="1721.3" stroke="#000" stroke-width="1.5" stroke-linecap="butt"/>
<rect x="684.9" y="1716.3" width="10" height="10" fill="#000000"/>
<text x="730.8" y="1728.8" font-size="20.5" text-anchor="start"  textLength="71.4" lengthAdjust="spacingAndGlyphs">0.4wt%</text>
<line x1="661.6" y1="1752.3" x2="678.0" y2="1752.3" stroke="#ff2020" stroke-width="1.5" stroke-linecap="butt"/>
<line x1="700.0" y1="1752.3" x2="717.6" y2="1752.3" stroke="#ff2020" stroke-width="1.5" stroke-linecap="butt"/>
<circle cx="689.9" cy="1752.3" r="6.0" fill="#ff0000"/>
<text x="730.8" y="1759.8" font-size="20.5" text-anchor="start"  textLength="71.4" lengthAdjust="spacingAndGlyphs">0.6wt%</text>
<line x1="661.6" y1="1783.3" x2="678.0" y2="1783.3" stroke="#22ee22" stroke-width="1.5" stroke-linecap="butt"/>
<line x1="700.0" y1="1783.3" x2="717.6" y2="1783.3" stroke="#22ee22" stroke-width="1.5" stroke-linecap="butt"/>
<polygon points="682.4,1787.6 697.4,1787.6 689.9,1774.6" fill="#0000ff"/>
<text x="730.8" y="1790.8" font-size="20.5" text-anchor="start"  textLength="71.4" lengthAdjust="spacingAndGlyphs">0.8wt%</text>
<line x1="661.6" y1="1814.3" x2="678.0" y2="1814.3" stroke="#2222dd" stroke-width="1.5" stroke-linecap="butt"/>
<line x1="700.0" y1="1814.3" x2="717.6" y2="1814.3" stroke="#2222dd" stroke-width="1.5" stroke-linecap="butt"/>
<polygon points="682.4,1810.0 697.4,1810.0 689.9,1823.0" fill="#008080"/>
<text x="730.8" y="1821.8" font-size="20.5" text-anchor="start"  textLength="71.4" lengthAdjust="spacingAndGlyphs">1.0wt%</text>
<line x1="661.6" y1="1845.3" x2="678.0" y2="1845.3" stroke="#22eeee" stroke-width="1.5" stroke-linecap="butt"/>
<line x1="700.0" y1="1845.3" x2="717.6" y2="1845.3" stroke="#22eeee" stroke-width="1.5" stroke-linecap="butt"/>
<polygon points="694.2,1837.8 694.2,1852.8 681.2,1845.3" fill="#ff00ff"/>
<text x="730.8" y="1852.8" font-size="20.5" text-anchor="start"  textLength="71.4" lengthAdjust="spacingAndGlyphs">1.2wt%</text>
</svg></body></html>
